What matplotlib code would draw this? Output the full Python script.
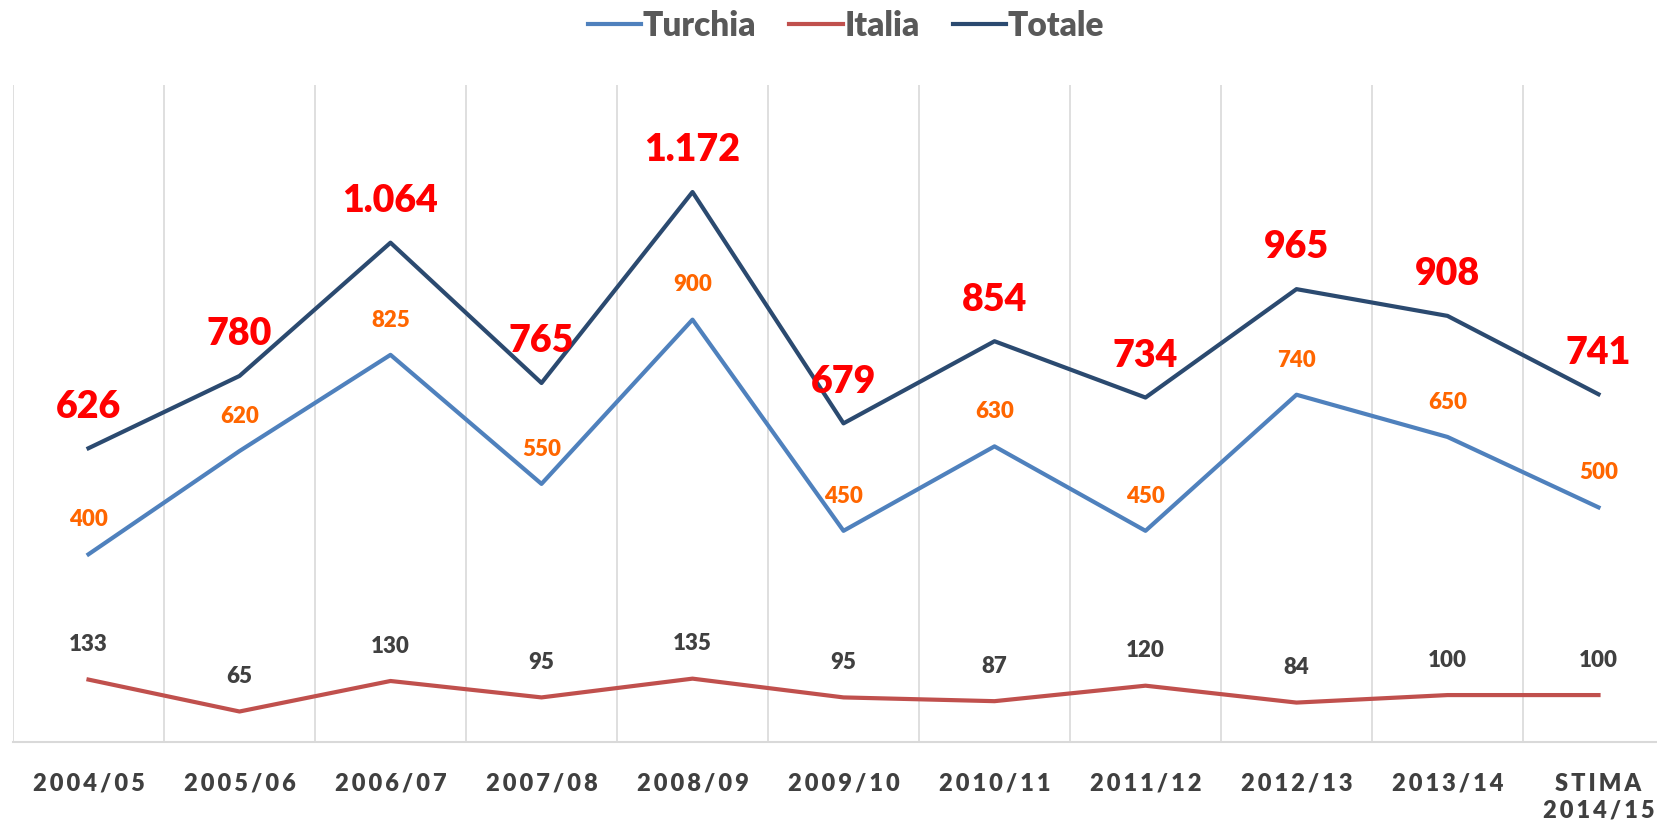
import matplotlib.pyplot as plt

categories = ['2004/05', '2005/06', '2006/07', '2007/08', '2008/09', '2009/10',
              '2010/11', '2011/12', '2012/13', '2013/14', 'STIMA\n2014/15']
turchia = [400, 620, 825, 550, 900, 450, 630, 450, 740, 650, 500]
italia = [133, 65, 130, 95, 135, 95, 87, 120, 84, 100, 100]
totale = [626, 780, 1064, 765, 1172, 679, 854, 734, 965, 908, 741]

def fmt(v):
    # italian thousands separator
    return f"{v:,}".replace(",", ".")

def spaced(s):
    # fake letter spacing with thin spaces
    return "\n".join("\u2009".join(line) for line in s.split("\n"))

plt.rcParams['font.family'] = ['Lato', 'DejaVu Sans']

fig = plt.figure(figsize=(16.58, 8.26), dpi=100)
ax = fig.add_axes([13 / 1658, 1 - 742 / 826, 1661 / 1658, (742 - 85) / 826])

x = list(range(len(categories)))
ax.plot(x, turchia, color='#4F81BD', lw=3, label='Turchia', zorder=3)
ax.plot(x, italia, color='#C0504D', lw=3, label='Italia', zorder=3)
ax.plot(x, totale, color='#2B4A70', lw=3, label='Totale', zorder=3)

for i in x:
    ax.annotate(fmt(totale[i]), (i, totale[i]), xytext=(0, 30), textcoords='offset points',
                ha='center', va='center', color='#FF0000', fontsize=27, fontweight='heavy')
    ax.annotate(str(turchia[i]), (i, turchia[i]), xytext=(0, 25), textcoords='offset points',
                ha='center', va='center', color='#FF6600', fontsize=16, fontweight='heavy')
    ax.annotate(str(italia[i]), (i, italia[i]), xytext=(0, 25), textcoords='offset points',
                ha='center', va='center', color='#404040', fontsize=16, fontweight='heavy')

ax.set_xlim(-0.5, len(categories) - 0.5)
ax.set_ylim(0, 1400)
ax.set_xticks(x)
ax.set_xticklabels([spaced(c) for c in categories], fontsize=17, fontweight='heavy',
                   color='#404040', linespacing=1.25)
ax.tick_params(axis='x', length=0, pad=22)
ax.set_yticks([])

# vertical separators between categories
for b in [i - 0.5 for i in range(len(categories) + 1)]:
    ax.axvline(b, color='#D9D9D9', lw=1.2, zorder=1)

for s in ['top', 'right', 'left']:
    ax.spines[s].set_visible(False)
ax.spines['bottom'].set_color('#D9D9D9')
ax.spines['bottom'].set_linewidth(1.5)

fig.legend(loc='center', bbox_to_anchor=(846 / 1658, 1 - 26 / 826), ncol=3, frameon=False,
           prop={'size': 24, 'weight': 'heavy'}, labelcolor='#595959',
           handlelength=1.6, handletextpad=0.05, columnspacing=1.0)

fig.savefig('out.png', dpi=100)
